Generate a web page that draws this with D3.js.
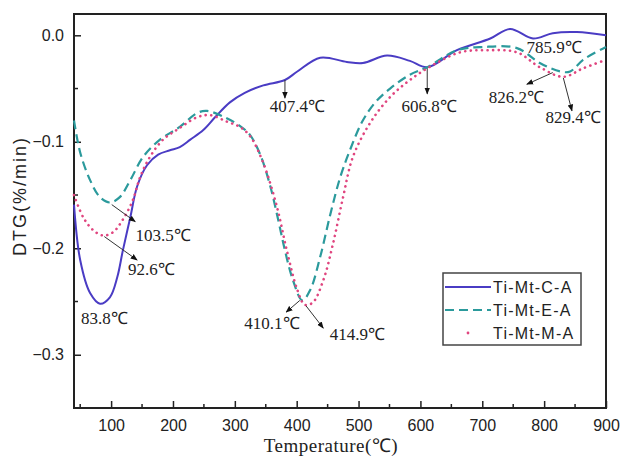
<!DOCTYPE html>
<html>
<head>
<meta charset="utf-8">
<script src="https://cdn.jsdelivr.net/npm/d3@7"></script>
<style>
  body { margin: 0; background: #fff; }
  svg { display: block; }
</style>
</head>
<body>
<div id="chart"></div>
<script>
// Temperature (°C) and DTG (%/min)
const tempC = [40, 50, 66, 82, 98, 110, 119, 131, 142, 158, 176, 195, 211, 228, 249, 268, 292, 316, 346, 381, 401, 438, 481, 507, 546, 583, 611, 659, 713, 745, 782, 814, 853, 900]
const dtgC  = [-0.159, -0.211, -0.242, -0.252, -0.246, -0.227, -0.202, -0.171, -0.142, -0.122, -0.112, -0.108, -0.105, -0.098, -0.089, -0.077, -0.063, -0.054, -0.047, -0.042, -0.034, -0.021, -0.025, -0.026, -0.019, -0.024, -0.030, -0.014, -0.003, 0.006, -0.003, 0.002, 0.003, 0.000]

const tempE = [40, 50, 66, 82, 98, 114, 131, 152, 179, 211, 239, 255, 287, 308, 325, 341, 357, 370, 381, 394, 409, 422, 438, 454, 470, 486, 506, 527, 551, 583, 611, 659, 701, 756, 793, 826, 842, 863, 900]
const dtgE  = [-0.080, -0.110, -0.136, -0.152, -0.157, -0.152, -0.136, -0.114, -0.098, -0.086, -0.073, -0.071, -0.078, -0.085, -0.094, -0.112, -0.141, -0.173, -0.202, -0.230, -0.249, -0.239, -0.208, -0.169, -0.134, -0.108, -0.081, -0.063, -0.050, -0.037, -0.030, -0.014, -0.011, -0.012, -0.026, -0.034, -0.034, -0.023, -0.011]

const tempM = [40, 55, 71, 87, 103, 119, 135, 147, 163, 184, 211, 239, 260, 287, 308, 325, 346, 368, 384, 401, 413, 426, 443, 459, 475, 491, 519, 551, 583, 620, 664, 708, 756, 793, 831, 863, 900]
const dtgM  = [-0.150, -0.171, -0.183, -0.188, -0.185, -0.173, -0.155, -0.133, -0.114, -0.098, -0.087, -0.077, -0.075, -0.081, -0.086, -0.095, -0.120, -0.161, -0.202, -0.239, -0.253, -0.251, -0.230, -0.195, -0.152, -0.114, -0.082, -0.058, -0.042, -0.028, -0.016, -0.014, -0.016, -0.030, -0.039, -0.031, -0.023]

const seriesNames = ["Ti-Mt-C-A", "Ti-Mt-E-A", "Ti-Mt-M-A"]

const xTicks = [100, 200, 300, 400, 500, 600, 700, 800, 900]
const yTicks = [0, -0.1, -0.2, -0.3]

// peak labels: text, arrow start, arrow end, text centre (data units)
const peakLabels = [
  {text: "407.4℃", from: [381, -0.042], to: [381, -0.059], at: [401, -0.067]},
  {text: "606.8℃", from: [611, -0.031], to: [611, -0.055], at: [614, -0.067]},
  {text: "785.9℃", from: null, to: null, at: [816, -0.011]},
  {text: "826.2℃", from: [814, -0.035], to: [772, -0.046], at: [755, -0.058]},
  {text: "829.4℃", from: [831, -0.040], to: [845, -0.071], at: [847, -0.077]},
  {text: "103.5℃", from: [101, -0.159], to: [139, -0.175], at: [184, -0.188]},
  {text: "92.6℃", from: [89, -0.189], to: [142, -0.211], at: [165, -0.220]},
  {text: "83.8℃", from: null, to: null, at: [89, -0.266]},
  {text: "410.1℃", from: [405, -0.249], to: [383, -0.260], at: [360, -0.271]},
  {text: "414.9℃", from: [415, -0.254], to: [443, -0.275], at: [498, -0.281]}
]

const width = 623
const height = 458
const margin = {left: 74, right: 17, top: 14, bottom: 50}

const svg = d3.select("#chart").append("svg")
    .attr("width", width)
    .attr("height", height)

const x = d3.scaleLinear().domain([40, 900]).range([margin.left, width - margin.right])
const y = d3.scaleLinear().domain([-0.35, 0.02]).range([height - margin.bottom, margin.top])

const sansFont = "'Liberation Sans', Arial, sans-serif"
const serifFont = "'Liberation Serif', 'Times New Roman', serif"

// arrow head
svg.append("defs").append("marker")
    .attr("id", "arrow")
    .attr("viewBox", "0 0 10 10")
    .attr("refX", 9).attr("refY", 5)
    .attr("markerWidth", 7).attr("markerHeight", 7)
    .attr("orient", "auto")
  .append("path")
    .attr("d", "M0,1 L10,5 L0,9 Z")
    .attr("fill", "#111")

// axes (ticks pointing inward)
const xAxis = d3.axisBottom(x).tickValues(xTicks).tickSize(-7).tickPadding(12).tickFormat(d3.format("d"))
const yAxis = d3.axisLeft(y).tickValues(yTicks).tickSize(-7).tickPadding(10)
    .tickFormat(d => d === 0 ? "0.0" : d3.format(".1f")(d).replace("-", "−"))

const gx = svg.append("g").attr("transform", `translate(0,${height - margin.bottom})`).call(xAxis)
const gy = svg.append("g").attr("transform", `translate(${margin.left},0)`).call(yAxis)

// minor ticks
const xMinor = d3.range(50, 900, 100)
gx.selectAll(".minor").data(xMinor).join("line")
    .attr("x1", d => x(d)).attr("x2", d => x(d))
    .attr("y1", 0).attr("y2", -4)
    .attr("stroke", "#222").attr("stroke-width", 1.5)
const yMinor = [-0.05, -0.15, -0.25]
gy.selectAll(".minor").data(yMinor).join("line")
    .attr("y1", d => y(d)).attr("y2", d => y(d))
    .attr("x1", 0).attr("x2", 4)
    .attr("stroke", "#222").attr("stroke-width", 1.5)

for (const g of [gx, gy]) {
  g.select(".domain").remove()
  g.selectAll(".tick line").attr("stroke", "#222").attr("stroke-width", 1.5)
  g.selectAll(".tick text").attr("fill", "#222").style("font-family", sansFont).style("font-size", "16px")
}

// frame
svg.append("rect")
    .attr("x", margin.left).attr("y", margin.top)
    .attr("width", width - margin.left - margin.right)
    .attr("height", height - margin.top - margin.bottom)
    .attr("fill", "none").attr("stroke", "#222").attr("stroke-width", 2)

// axis titles
svg.append("text")
    .attr("x", 331).attr("y", 452)
    .attr("text-anchor", "middle")
    .style("font-family", serifFont).style("font-size", "19px")
    .style("letter-spacing", "0.5px")
    .attr("fill", "#222")
    .text("Temperature(℃)")

svg.append("text")
    .attr("transform", "translate(26,196) rotate(-90)")
    .attr("text-anchor", "middle")
    .style("font-family", sansFont).style("font-size", "18px")
    .style("letter-spacing", "2px")
    .attr("fill", "#222")
    .text("DTG(%/min)")

// curves
const line = d3.line()
    .x(d => x(d[0]))
    .y(d => y(d[1]))
    .curve(d3.curveCatmullRom.alpha(0.5))

const styles = [
  {color: "#4a3cc4", width: 2, dash: null, cap: "butt"},
  {color: "#2b9a9c", width: 2.2, dash: "9,5", cap: "butt"},
  {color: "#e0457f", width: 2.6, dash: "0.1,5.5", cap: "round"}
]
const seriesData = [
  d3.zip(tempC, dtgC),
  d3.zip(tempE, dtgE),
  d3.zip(tempM, dtgM)
]

const plot = svg.append("g")
plot.selectAll("path")
  .data(seriesData)
  .join("path")
    .attr("d", line)
    .attr("fill", "none")
    .attr("stroke", (d, i) => styles[i].color)
    .attr("stroke-width", (d, i) => styles[i].width)
    .attr("stroke-dasharray", (d, i) => styles[i].dash)
    .attr("stroke-linecap", (d, i) => styles[i].cap)

// peak annotations
const ann = svg.append("g")
ann.selectAll("line")
  .data(peakLabels.filter(d => d.from))
  .join("line")
    .attr("x1", d => x(d.from[0])).attr("y1", d => y(d.from[1]))
    .attr("x2", d => x(d.to[0])).attr("y2", d => y(d.to[1]))
    .attr("stroke", "#333").attr("stroke-width", 1)
    .attr("marker-end", "url(#arrow)")

ann.selectAll("text")
  .data(peakLabels)
  .join("text")
    .attr("x", d => x(d.at[0])).attr("y", d => y(d.at[1]))
    .attr("text-anchor", "middle")
    .attr("dominant-baseline", "central")
    .style("font-family", serifFont).style("font-size", "17px")
    .attr("fill", "#222")
    .text(d => d.text)

// legend
const legend = svg.append("g").attr("transform", "translate(443,273)")
legend.append("rect")
    .attr("width", 138).attr("height", 72)
    .attr("fill", "#fff").attr("stroke", "#444").attr("stroke-width", 1.5)

const rows = legend.selectAll(".row")
  .data(seriesNames)
  .join("g")
    .attr("transform", (d, i) => `translate(0,${14 + i * 23})`)

rows.each(function(d, i) {
  const g = d3.select(this)
  if (i === 2) {
    g.append("circle").attr("cx", 25).attr("cy", 0).attr("r", 1.4).attr("fill", styles[i].color)
  } else {
    g.append("line")
        .attr("x1", 2).attr("x2", 48)
        .attr("stroke", styles[i].color)
        .attr("stroke-width", styles[i].width)
        .attr("stroke-dasharray", styles[i].dash)
  }
})

rows.append("text")
    .attr("x", 50)
    .attr("dominant-baseline", "central")
    .style("font-family", sansFont).style("font-size", "16px")
    .style("letter-spacing", "1.2px")
    .attr("fill", "#222")
    .text(d => d)
</script>
</body>
</html>
